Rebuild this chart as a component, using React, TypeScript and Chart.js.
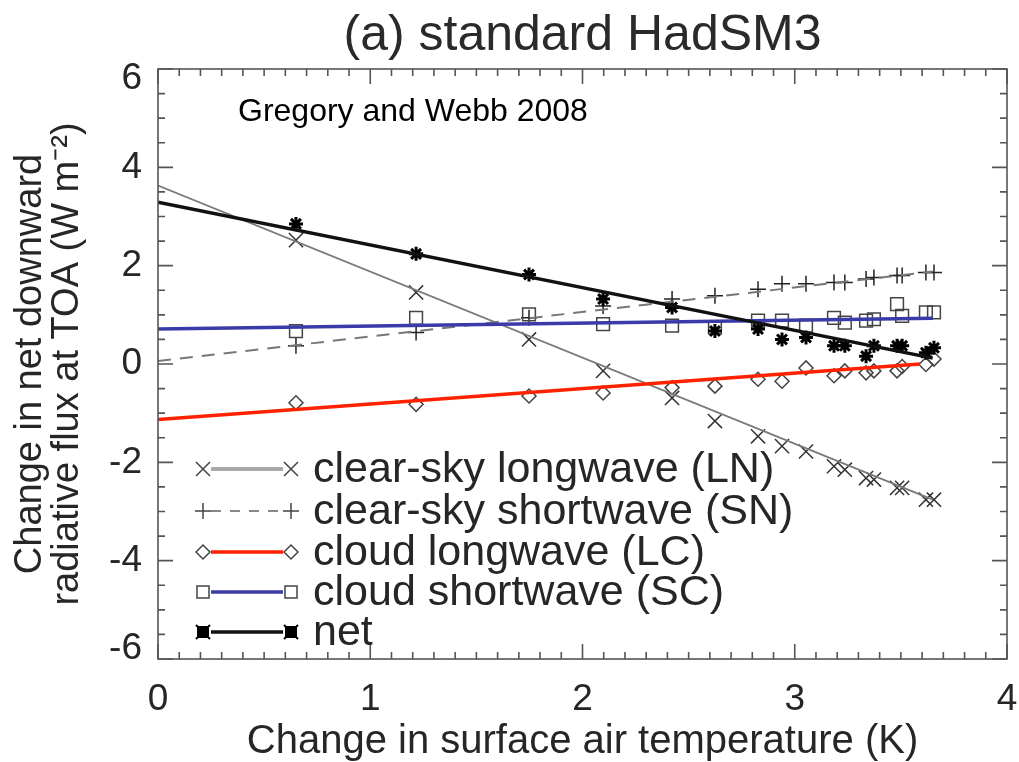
import React, { useEffect, useRef } from 'react';
import { Chart, registerables } from 'chart.js';
Chart.register(...registerables);

// Surface air temperature change (K) for each sample
const tempChange = [0.65, 1.216, 1.748, 2.097, 2.422, 2.624, 2.827, 2.94, 3.053, 3.185, 3.236, 3.336, 3.373, 3.482, 3.506, 3.618, 3.656];
// Flux components (W m-2)
const clearSkyLW = [2.52, 1.455, 0.5, -0.14, -0.69, -1.16, -1.47, -1.67, -1.78, -2.08, -2.15, -2.32, -2.35, -2.52, -2.52, -2.76, -2.76];
const clearSkySW = [0.37, 0.64, 0.94, 1.18, 1.32, 1.39, 1.52, 1.63, 1.63, 1.66, 1.66, 1.73, 1.76, 1.8, 1.8, 1.86, 1.86];
const cloudLW = [-0.79, -0.82, -0.65, -0.59, -0.48, -0.45, -0.31, -0.35, -0.08, -0.24, -0.14, -0.18, -0.14, -0.14, -0.05, -0.01, 0.1];
const cloudSW = [0.67, 0.94, 1.01, 0.81, 0.78, 0.74, 0.88, 0.88, 0.78, 0.94, 0.84, 0.88, 0.91, 1.22, 0.98, 1.05, 1.05];
const netFlux = [2.85, 2.24, 1.82, 1.32, 1.15, 0.67, 0.71, 0.5, 0.54, 0.37, 0.37, 0.16, 0.37, 0.37, 0.37, 0.23, 0.33];

// Regression lines (endpoints)
const fitX = [0, 3.65];
const lcFitX = [0, 3.59];
const lnFit = [3.63, -2.76];
const snFit = [0.06, 1.88];
const lcFit = [-1.13, 0.0];
const scFit = [0.71, 0.93];
const netFit = [3.29, 0.12];

const legendLabels = [
  'clear-sky longwave (LN)',
  'clear-sky shortwave (SN)',
  'cloud longwave (LC)',
  'cloud shortwave (SC)',
  'net',
];

const titleText = '(a) standard HadSM3';
const noteText = 'Gregory and Webb 2008';
const xTitle = 'Change in surface air temperature (K)';
const yTitle = ['Change in net downward', 'radiative flux at TOA (W m\u207B\u00B2)'];

const FONT = "'Liberation Sans', Arial, Helvetica, sans-serif";
const TEXT = '#262626';

const pts = (ys: number[]) => tempChange.map((x, i) => ({ x, y: ys[i] }));
const line = (xs: number[], ys: number[]) => xs.map((x, i) => ({ x, y: ys[i] }));

function drawMarker(ctx: CanvasRenderingContext2D, kind: string, x: number, y: number) {
  ctx.save();
  ctx.beginPath();
  if (kind === 'x') {
    const r = 7;
    ctx.strokeStyle = '#444'; ctx.lineWidth = 1.5;
    ctx.moveTo(x - r, y - r); ctx.lineTo(x + r, y + r);
    ctx.moveTo(x - r, y + r); ctx.lineTo(x + r, y - r);
    ctx.stroke();
  } else if (kind === '+') {
    const r = 8;
    ctx.strokeStyle = '#444'; ctx.lineWidth = 1.5;
    ctx.moveTo(x - r, y); ctx.lineTo(x + r, y);
    ctx.moveTo(x, y - r); ctx.lineTo(x, y + r);
    ctx.stroke();
  } else if (kind === 'd') {
    const r = 7;
    ctx.strokeStyle = '#444'; ctx.lineWidth = 1.5; ctx.fillStyle = '#fff';
    ctx.moveTo(x - r, y); ctx.lineTo(x, y - r); ctx.lineTo(x + r, y); ctx.lineTo(x, y + r); ctx.closePath();
    ctx.fill(); ctx.stroke();
  } else if (kind === 's') {
    const r = 6;
    ctx.strokeStyle = '#444'; ctx.lineWidth = 1.5; ctx.fillStyle = '#fff';
    ctx.rect(x - r, y - r, 2 * r, 2 * r);
    ctx.fill(); ctx.stroke();
  } else {
    const r = 6;
    ctx.fillStyle = '#000';
    ctx.fillRect(x - r, y - r, 2 * r, 2 * r);
    ctx.strokeStyle = '#000'; ctx.lineWidth = 2;
    ctx.moveTo(x - r - 1, y - r - 1); ctx.lineTo(x + r + 1, y + r + 1);
    ctx.moveTo(x - r - 1, y + r + 1); ctx.lineTo(x + r + 1, y - r - 1);
    ctx.stroke();
  }
  ctx.restore();
}

const framePlugin = {
  id: 'frame',
  afterDatasetsDraw(chart: any) {
    const { ctx, chartArea: a, scales } = chart;
    const xs = scales.x, ys = scales.y;
    ctx.save();
    ctx.strokeStyle = '#555';
    ctx.lineWidth = 1.6;
    ctx.strokeRect(a.left, a.top, a.right - a.left, a.bottom - a.top);
    ctx.beginPath();
    for (let i = 0; i <= 40; i++) {
      const px = xs.getPixelForValue(i / 10);
      const len = i % 10 === 0 ? 15 : 7;
      ctx.moveTo(px, a.bottom); ctx.lineTo(px, a.bottom - len);
      ctx.moveTo(px, a.top); ctx.lineTo(px, a.top + len);
    }
    for (let i = 0; i <= 24; i++) {
      const py = ys.getPixelForValue(-6 + i * 0.5);
      const len = i % 4 === 0 ? 15 : 7;
      ctx.moveTo(a.left, py); ctx.lineTo(a.left + len, py);
      ctx.moveTo(a.right, py); ctx.lineTo(a.right - len, py);
    }
    ctx.stroke();

    // annotation
    ctx.fillStyle = '#000';
    ctx.font = `32px ${FONT}`;
    ctx.textBaseline = 'middle';
    ctx.textAlign = 'left';
    ctx.fillText(noteText, 238, 112);

    // legend
    const rows = [469, 511, 552, 592, 632];
    const styles = [
      { color: '#aaaaaa', width: 4, dash: [] as number[], mk: 'x' },
      { color: '#888888', width: 2, dash: [10, 9], mk: '+' },
      { color: '#ff2200', width: 3.5, dash: [], mk: 'd' },
      { color: '#3a3aa8', width: 3.5, dash: [], mk: 's' },
      { color: '#111111', width: 3.5, dash: [], mk: 'n' },
    ];
    const x0 = 203, x1 = 291;
    rows.forEach((ry, i) => {
      const st = styles[i];
      ctx.save();
      ctx.beginPath();
      ctx.strokeStyle = st.color;
      ctx.lineWidth = st.width;
      ctx.setLineDash(st.dash);
      ctx.moveTo(x0 + 8, ry); ctx.lineTo(x1 - 8, ry);
      ctx.stroke();
      ctx.restore();
      drawMarker(ctx, st.mk, x0, ry);
      drawMarker(ctx, st.mk, x1, ry);
      ctx.fillStyle = TEXT;
      ctx.font = `43px ${FONT}`;
      ctx.textBaseline = 'middle';
      ctx.textAlign = 'left';
      ctx.fillText(legendLabels[i], 313, ry + 1);
    });
    ctx.restore();
  },
};

export default function App() {
  const ref = useRef<HTMLCanvasElement>(null);
  useEffect(() => {
    document.body.style.margin = '0';
    const chart = new Chart(ref.current!, {
      type: 'scatter',
      data: {
        datasets: [
          { label: 'net fit', data: line(fitX, netFit), showLine: true, borderColor: '#111', borderWidth: 3.5, pointRadius: 0 },
          { label: 'SC fit', data: line(fitX, scFit), showLine: true, borderColor: '#3a3aa8', borderWidth: 3.5, pointRadius: 0 },
          { label: 'LC fit', data: line(lcFitX, lcFit), showLine: true, borderColor: '#ff2200', borderWidth: 3.5, pointRadius: 0 },
          { label: 'SN fit', data: line(fitX, snFit), showLine: true, borderColor: '#777', borderWidth: 2, borderDash: [13, 9], pointRadius: 0 },
          { label: 'LN fit', data: line(fitX, lnFit), showLine: true, borderColor: '#7a7a7a', borderWidth: 1.8, pointRadius: 0 },
          { label: 'net', data: pts(netFlux), pointStyle: 'star', pointRadius: 7, borderColor: '#000', backgroundColor: '#000', pointBorderWidth: 3 },
          { label: 'SC', data: pts(cloudSW), pointStyle: 'rect', pointRadius: 9, borderColor: '#444', backgroundColor: 'rgba(0,0,0,0)', pointBorderWidth: 1.5 },
          { label: 'LC', data: pts(cloudLW), pointStyle: 'rectRot', pointRadius: 7, borderColor: '#444', backgroundColor: 'rgba(0,0,0,0)', pointBorderWidth: 1.5 },
          { label: 'SN', data: pts(clearSkySW), pointStyle: 'cross', pointRadius: 8, borderColor: '#222', backgroundColor: '#222', pointBorderWidth: 1.5 },
          { label: 'LN', data: pts(clearSkyLW), pointStyle: 'crossRot', pointRadius: 10, borderColor: '#333', backgroundColor: '#333', pointBorderWidth: 1.5 },
        ] as any,
      },
      options: {
        animation: false,
        responsive: false,
        devicePixelRatio: 1,
        layout: { padding: { top: 0, left: 0, right: 12, bottom: 0 } },
        plugins: {
          legend: { display: false },
          tooltip: { enabled: false },
          title: {
            display: true,
            text: titleText,
            fullSize: false,
            color: '#2a2a2a',
            font: { family: FONT, size: 50, weight: 'normal', lineHeight: 1.2 },
            padding: { top: 6, bottom: 3 },
          },
        },
        scales: {
          x: {
            type: 'linear',
            min: 0,
            max: 4,
            grid: { display: false, drawTicks: false },
            border: { display: false },
            ticks: { stepSize: 1, color: TEXT, font: { family: FONT, size: 37 }, padding: 19, maxRotation: 0 },
            title: { display: true, text: xTitle, color: TEXT, font: { family: FONT, size: 40, lineHeight: 1.0 }, padding: { top: 0, bottom: 0 } },
            afterFit: (s: any) => { s.height = 103; s.paddingLeft = 0; s.paddingRight = 0; },
          },
          y: {
            type: 'linear',
            min: -6,
            max: 6,
            grid: { display: false, drawTicks: false },
            border: { display: false },
            ticks: {
              stepSize: 2,
              color: TEXT,
              font: { family: FONT, size: 37, lineHeight: 0.55 },
              padding: 16,
              callback: (v: number) => (v === 6 ? ['', '6'] : v === -6 ? ['-6', ''] : String(v)),
            },
            title: { display: true, text: yTitle, color: TEXT, font: { family: FONT, size: 38, lineHeight: 0.98 }, padding: { top: 12, bottom: 0 } },
            afterFit: (s: any) => { s.width = 158; s.paddingTop = 0; s.paddingBottom = 0; },
          },
        },
      } as any,
      plugins: [framePlugin],
    });
    return () => chart.destroy();
  }, []);
  return (
    <div style={{ width: 1019, height: 762 }}>
      <canvas ref={ref} width={1019} height={762} style={{ display: 'block' }} />
    </div>
  );
}
